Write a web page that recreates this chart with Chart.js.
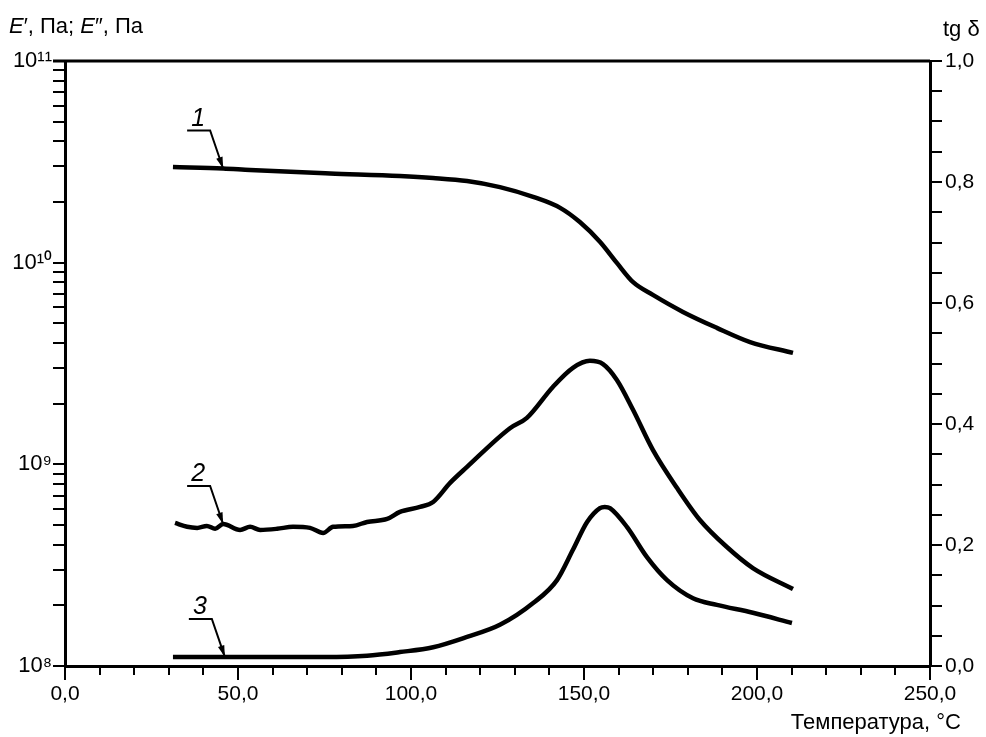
<!DOCTYPE html>
<html>
<head>
<meta charset="utf-8">
<script src="https://cdn.jsdelivr.net/npm/chart.js@4.4.1/dist/chart.umd.min.js"></script>
<style>
html, body { margin: 0; padding: 0; background: #fff; }
#wrap { width: 986px; height: 737px; position: relative; }
</style>
</head>
<body>
<div id="wrap"><canvas id="dmaChart"></canvas></div>
<script>
// curve 1 - storage modulus E', Pa (left log axis)
const temps1 = [31.2, 45.7, 53.5, 76.6, 96.8, 106.4, 116.2, 125.7, 135.3, 143.1, 148.8, 154.6, 159.5, 164.2, 169.9, 178.6, 188.4, 198.0, 210.4];
const storageModulus = [2.98e10, 2.93e10, 2.88e10, 2.77e10, 2.69e10, 2.63e10, 2.54e10, 2.37e10, 2.12e10, 1.87e10, 1.59e10, 1.27e10, 9.97e9, 8.0e9, 6.92e9, 5.70e9, 4.75e9, 4.04e9, 3.57e9];

// curve 2 - loss modulus E'', Pa (left log axis)
const temps2 = [31.8, 35.3, 38.2, 41.0, 43.4, 45.7, 50.6, 53.5, 56.4, 61.3, 65.9, 70.8, 74.6, 77.5, 83.2, 87.3, 93.1, 96.8, 102.6, 106.4, 111.3, 116.2, 128.6, 133.5, 141.0, 146.8, 151.7, 155.5, 159.5, 164.2, 169.9, 176.9, 183.5, 191.3, 198.8, 210.4];
const lossModulus = [5.12e8, 4.90e8, 4.84e8, 4.95e8, 4.79e8, 5.06e8, 4.73e8, 4.90e8, 4.73e8, 4.79e8, 4.90e8, 4.84e8, 4.57e8, 4.90e8, 4.95e8, 5.18e8, 5.36e8, 5.81e8, 6.15e8, 6.51e8, 8.09e8, 9.71e8, 1.51e9, 1.70e9, 2.42e9, 3.01e9, 3.26e9, 3.14e9, 2.62e9, 1.86e9, 1.18e9, 7.63e8, 5.30e8, 3.89e8, 3.06e8, 2.41e8];

// curve 3 - tg delta (right axis)
const temps3 = [31.2, 46.2, 60.0, 75.0, 87.3, 96.8, 106.4, 116.2, 125.7, 135.3, 142.2, 146.8, 150.9, 154.6, 156.0, 157.5, 162.4, 168.2, 174.0, 181.5, 188.4, 198.8, 210.1];
const tanDelta = [0.015, 0.015, 0.015, 0.015, 0.017, 0.023, 0.031, 0.048, 0.068, 0.104, 0.142, 0.192, 0.238, 0.261, 0.263, 0.261, 0.230, 0.180, 0.142, 0.112, 0.101, 0.088, 0.071];

const curveLabels = ['1', '2', '3'];
const arrowIndex = [1, 5, 1]; // data point each numbered leader points at
const xLabelSteps = [0, 50, 100, 150, 200, 250];
const decades = [8, 9, 10, 11];

const FONT = '"Liberation Sans", Arial, sans-serif';
Chart.defaults.font.family = FONT;
Chart.defaults.font.size = 21;
Chart.defaults.color = '#000';

const sup = n => String(n).split('').map(d => '⁰¹²³⁴⁵⁶⁷⁸⁹'[+d]).join('');
const comma = v => v.toFixed(1).replace('.', ',');
const pts = (xs, ys) => xs.map((x, i) => ({x: x, y: ys[i]}));

const lineStyle = {
    borderColor: '#000',
    borderWidth: 4.5,
    pointRadius: 0,
    fill: false,
    cubicInterpolationMode: 'monotone'
};

const decor = {
    id: 'decor',
    afterDraw(chart) {
        const {ctx, chartArea: a, scales} = chart;
        ctx.save();
        ctx.strokeStyle = '#000';
        ctx.fillStyle = '#000';

        // top frame line
        ctx.lineWidth = 3;
        ctx.beginPath();
        ctx.moveTo(a.left - 12, a.top);
        ctx.lineTo(a.right, a.top);
        ctx.stroke();

        // longer ticks under labelled x values
        ctx.lineWidth = 2;
        xLabelSteps.forEach(v => {
            const px = scales.x.getPixelForValue(v);
            ctx.beginPath();
            ctx.moveTo(px, a.bottom);
            ctx.lineTo(px, a.bottom + 14);
            ctx.stroke();
        });

        // axis titles
        ctx.textBaseline = 'alphabetic';
        ctx.textAlign = 'left';
        let x = 9;
        const parts = [['E', true], ['′, Па; ', false], ['E', true], ['″, Па', false]];
        parts.forEach(([t, it]) => {
            ctx.font = (it ? 'italic ' : '') + '22px ' + FONT;
            ctx.fillText(t, x, 33);
            x += ctx.measureText(t).width;
        });
        ctx.font = '22px ' + FONT;
        ctx.fillText('tg δ', 943, 36);
        ctx.textAlign = 'right';
        ctx.fillText('Температура, °C', 961, 729);

        // numbered leaders with arrows
        chart.data.datasets.forEach((ds, i) => {
            const p = chart.getDatasetMeta(i).data[arrowIndex[i]];
            const tx = p.x, ty = p.y;
            const sx = tx - 13, sy = ty - 38;
            ctx.lineWidth = 2;
            ctx.beginPath();
            ctx.moveTo(tx - 36, sy);
            ctx.lineTo(sx, sy);
            ctx.lineTo(tx, ty);
            ctx.stroke();
            const ang = Math.atan2(ty - sy, tx - sx);
            ctx.beginPath();
            ctx.moveTo(tx, ty);
            ctx.lineTo(tx - 12 * Math.cos(ang - 0.28), ty - 12 * Math.sin(ang - 0.28));
            ctx.lineTo(tx - 12 * Math.cos(ang + 0.28), ty - 12 * Math.sin(ang + 0.28));
            ctx.closePath();
            ctx.fill();
            ctx.font = 'italic 25px ' + FONT;
            ctx.textAlign = 'center';
            ctx.fillText(curveLabels[i], tx - 25, ty - 43);
        });
        ctx.restore();
    }
};

const ctx = document.getElementById('dmaChart').getContext('2d');
new Chart(ctx, {
    type: 'line',
    data: {
        datasets: [
            Object.assign({label: "E'", data: pts(temps1, storageModulus), yAxisID: 'y'}, lineStyle),
            Object.assign({label: "E''", data: pts(temps2, lossModulus), yAxisID: 'y'}, lineStyle),
            Object.assign({label: 'tg δ', data: pts(temps3, tanDelta), yAxisID: 'y2'}, lineStyle)
        ]
    },
    options: {
        responsive: true,
        maintainAspectRatio: false,
        animation: false,
        layout: {padding: {top: 61, left: 0, right: 0, bottom: 0}},
        plugins: {
            legend: {display: false},
            tooltip: {enabled: false}
        },
        scales: {
            x: {
                type: 'linear',
                position: 'bottom',
                min: 0,
                max: 250,
                afterFit: s => { s.height = 71; },
                ticks: {
                    stepSize: 10,
                    autoSkip: false,
                    maxRotation: 0,
                    padding: 7,
                    callback: v => (v % 50 === 0 ? comma(v) : '')
                },
                grid: {drawOnChartArea: false, tickLength: 9, color: '#000', lineWidth: 2},
                border: {color: '#000', width: 3}
            },
            y: {
                type: 'logarithmic',
                position: 'left',
                min: 1e8,
                max: 1e11,
                afterFit: s => { s.width = 65; },
                afterBuildTicks: s => {
                    const t = [];
                    decades.forEach(e => {
                        for (let m = 1; m <= 9; m++) {
                            if (e === 11 && m > 1) break;
                            t.push({value: m * Math.pow(10, e)});
                        }
                    });
                    s.ticks = t;
                },
                ticks: {
                    autoSkip: false,
                    padding: 1,
                    font: {size: 22},
                    callback: v => {
                        const e = Math.log10(v);
                        return Math.abs(e - Math.round(e)) < 1e-9 ? '10' + sup(Math.round(e)) : '';
                    }
                },
                grid: {drawOnChartArea: false, tickLength: 12, color: '#000', lineWidth: 2},
                border: {color: '#000', width: 3}
            },
            y2: {
                type: 'linear',
                position: 'right',
                min: 0,
                max: 1,
                afterFit: s => { s.width = 56; },
                ticks: {
                    stepSize: 0.05,
                    autoSkip: false,
                    padding: 3,
                    callback: v => (Math.round(v * 100) % 20 === 0 ? comma(v) : '')
                },
                grid: {drawOnChartArea: false, tickLength: 12, color: '#000', lineWidth: 2},
                border: {color: '#000', width: 3}
            }
        }
    },
    plugins: [decor]
});
</script>
</body>
</html>
